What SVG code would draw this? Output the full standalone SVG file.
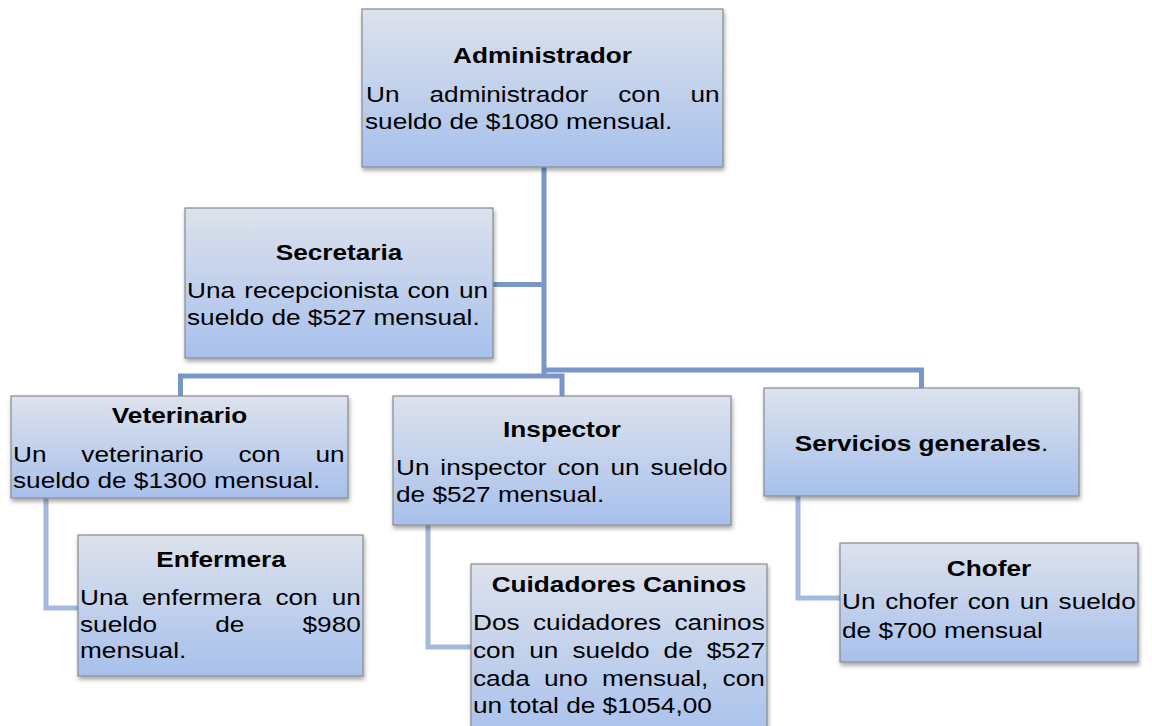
<svg xmlns="http://www.w3.org/2000/svg" width="1152" height="726" viewBox="0 0 1152 726">
<defs>
<linearGradient id="bg" x1="0" y1="0" x2="0" y2="1">
<stop offset="0" stop-color="#dde2ec"/>
<stop offset="1" stop-color="#a7c0ec"/>
</linearGradient>
<filter id="sh" x="-10%" y="-10%" width="125%" height="130%">
<feDropShadow dx="1" dy="3" stdDeviation="2.2" flood-color="#000" flood-opacity="0.35"/>
</filter>
</defs>
<style>
.box{fill:url(#bg);stroke:#858a92;stroke-width:1.2;filter:url(#sh)}
.main{fill:none;stroke:#7896c8;stroke-width:5;stroke-linejoin:miter}
.sub{fill:none;stroke:#a3b9de;stroke-width:5;stroke-linejoin:miter}
text{font-family:"Liberation Sans",Arial,sans-serif;font-size:21.4px;fill:#000}
.t{font-weight:bold;text-anchor:middle}
</style>
<rect width="1152" height="726" fill="#fff"/>
<g id="connectors">
<path class="main" d="M544 167 V378"/>
<path class="main" d="M492 284.5 H544"/>
<path class="main" d="M180.5 397 V376 H562 V397"/>
<path class="main" d="M544 370 H921.5 V389"/>
<path class="sub" d="M46 498 V608 H79"/>
<path class="sub" d="M428 525 V647 H472"/>
<path class="sub" d="M798 496 V598 H841"/>
</g>
<g id="administrador">
<rect class="box" x="362" y="9" width="361" height="158"/>
<text class="t" transform="translate(542.5 63) scale(1.225 1)">Administrador</text>
<text transform="translate(366 101.5) scale(1.225 1)" word-spacing="18.6">Un administrador con un</text>
<text transform="translate(365 129) scale(1.225 1)">sueldo de $1080 mensual.</text>
</g>
<g id="secretaria">
<rect class="box" x="185" y="208" width="308" height="150"/>
<text class="t" transform="translate(339 260) scale(1.225 1)">Secretaria</text>
<text transform="translate(187 298) scale(1.225 1)" word-spacing="1.5">Una recepcionista con un</text>
<text transform="translate(187 325) scale(1.225 1)">sueldo de $527 mensual.</text>
</g>
<g id="veterinario">
<rect class="box" x="11" y="396" width="337" height="102"/>
<text class="t" transform="translate(179.5 423) scale(1.225 1)">Veterinario</text>
<text transform="translate(13 462) scale(1.225 1)" word-spacing="22.5">Un veterinario con un</text>
<text transform="translate(13 488) scale(1.225 1)">sueldo de $1300 mensual.</text>
</g>
<g id="enfermera">
<rect class="box" x="78" y="535" width="285" height="141"/>
<text class="t" transform="translate(221 567) scale(1.225 1)">Enfermera</text>
<text transform="translate(80 605) scale(1.225 1)" word-spacing="5.5">Una enfermera con un</text>
<text transform="translate(80 632) scale(1.225 1)" word-spacing="41.5">sueldo de $980</text>
<text transform="translate(80 658) scale(1.225 1)">mensual.</text>
</g>
<g id="inspector">
<rect class="box" x="393" y="396" width="338" height="129"/>
<text class="t" transform="translate(562 437) scale(1.225 1)">Inspector</text>
<text transform="translate(396 475) scale(1.225 1)" word-spacing="2.9">Un inspector con un sueldo</text>
<text transform="translate(396 502) scale(1.225 1)">de $527 mensual.</text>
</g>
<g id="cuidadores">
<rect class="box" x="471" y="564" width="296" height="180"/>
<text class="t" transform="translate(619 592) scale(1.225 1)">Cuidadores Caninos</text>
<text transform="translate(473 630) scale(1.225 1)" word-spacing="5">Dos cuidadores caninos</text>
<text transform="translate(473 658) scale(1.225 1)" word-spacing="5.5">con un sueldo de $527</text>
<text transform="translate(473 686) scale(1.225 1)" word-spacing="5.7">cada uno mensual, con</text>
<text transform="translate(473 713) scale(1.225 1)">un total de $1054,00</text>
</g>
<g id="servicios">
<rect class="box" x="764" y="388" width="315" height="108"/>
<text class="t" transform="translate(921.5 451) scale(1.225 1)">Servicios generales<tspan font-weight="normal">.</tspan></text>
</g>
<g id="chofer">
<rect class="box" x="840" y="543" width="298" height="119"/>
<text class="t" transform="translate(989 576) scale(1.225 1)">Chofer</text>
<text transform="translate(842 609) scale(1.225 1)" word-spacing="2">Un chofer con un sueldo</text>
<text transform="translate(842 638) scale(1.225 1)">de $700 mensual</text>
</g>
</svg>
